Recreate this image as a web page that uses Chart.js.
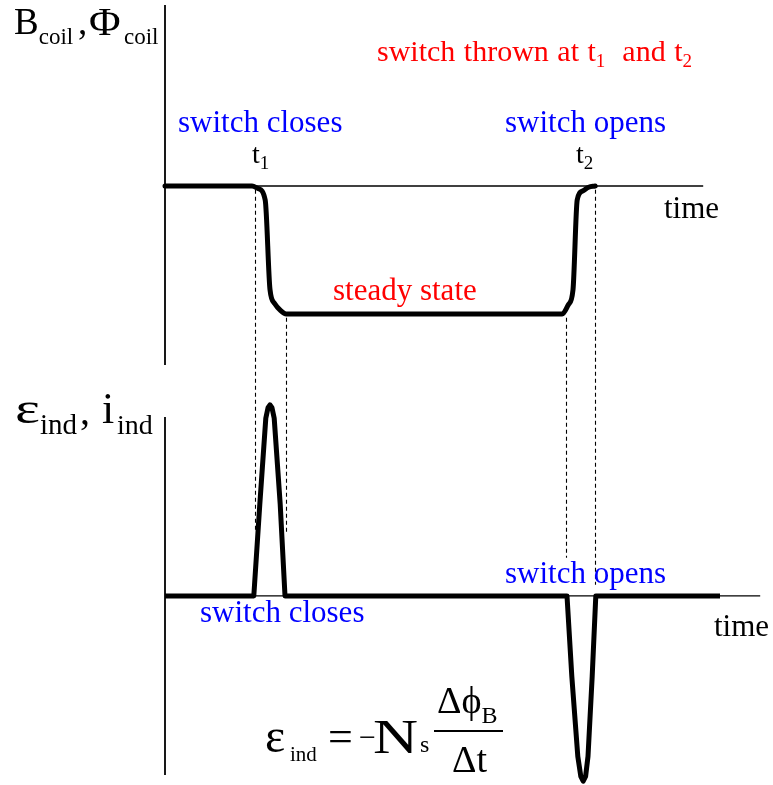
<!DOCTYPE html>
<html>
<head>
<meta charset="utf-8">
<script src="https://cdn.jsdelivr.net/npm/chart.js@4"></script>
<style>
  html, body { margin: 0; padding: 0; background: #fff; }
  #wrap { position: relative; width: 773px; height: 785px; overflow: hidden; font-family: "Liberation Serif", "Times New Roman", serif; }
  #c { position: absolute; left: 0; top: 0; }
  .lbl { position: absolute; white-space: nowrap; line-height: 1; }
  .sub { position: relative; }
</style>
</head>
<body>
<div id="wrap">
  <canvas id="c" width="773" height="785"></canvas>
</div>
<script>
// ---------------- data (time in arbitrary units, 0..100) ----------------
// top panel: coil field / flux
const TIME_TOP = [0, 14.5, 15.5, 16.7, 17.5, 18.3, 19.2, 20.2, 66.2, 67.2, 68.0, 68.7, 69.6, 70.6, 71.7];
const B_COIL   = [0, 0, -0.02, -0.11, -0.81, -0.92, -0.97, -1, -1, -0.93, -0.81, -0.11, -0.04, -0.01, 0];
// bottom panel: induced emf / current
const TIME_BOT = [0, 14.8, 15.8, 16.8, 17.17, 17.5, 17.83, 18.2, 19.2, 20.0, 67.0, 67.8, 68.8, 69.3, 69.7, 70.1, 70.5, 71.2, 71.8, 92.5];
const EMF_IND  = [0, 0, 0.48, 0.93, 0.985, 1, 0.985, 0.93, 0.48, 0, 0, -0.42, -0.84, -0.945, -0.97, -0.945, -0.84, -0.42, 0, 0];
// axes (time extent of each horizontal axis, value extent of each vertical axis)
const TOP_TIME_AXIS = [0, 89.7];
const TOP_VALUE_AXIS = [1.414, -1.398];
const BOT_TIME_AXIS = [0, 99.2];
const BOT_VALUE_AXIS = [0.937, -0.937];
// dashed guides at switching instants
const GUIDE_TIMES = [15.0, 20.2, 66.8, 71.7];
const GUIDE_TOP   = [-0.03, -1.03, -1.03, -0.03];   // top-panel value where guide starts
const GUIDE_BOT   = [0.346, 0.335, 0.2, 0.058];    // bottom-panel value where guide ends

const pts = (xs, ys) => xs.map((x, i) => ({ x, y: ys[i] }));

const guidePlugin = {
  id: 'guides',
  beforeDatasetsDraw(chart) {
    const { ctx, scales } = chart;
    ctx.save();
    ctx.strokeStyle = '#000';
    ctx.lineWidth = 1.1;
    ctx.setLineDash([4, 3]);
    GUIDE_TIMES.forEach((t, i) => {
      const x = Math.round(scales.x.getPixelForValue(t)) + 0.5;
      ctx.beginPath();
      ctx.moveTo(x, scales.yTop.getPixelForValue(GUIDE_TOP[i]));
      ctx.lineTo(x, scales.yBot.getPixelForValue(GUIDE_BOT[i]));
      ctx.stroke();
    });
    ctx.restore();
  }
};

const thin = { borderColor: '#000', borderWidth: 1.3, pointRadius: 0, tension: 0, clip: false };

new Chart(document.getElementById('c'), {
  type: 'scatter',
  data: {
    datasets: [
      { ...thin, showLine: true, yAxisID: 'yTop', data: pts(TOP_TIME_AXIS, [0, 0]) },
      { ...thin, borderWidth: 1.8, showLine: true, yAxisID: 'yTop', data: pts([0, 0], TOP_VALUE_AXIS) },
      { ...thin, showLine: true, yAxisID: 'yBot', data: pts(BOT_TIME_AXIS, [0, 0]) },
      { ...thin, borderWidth: 1.8, showLine: true, yAxisID: 'yBot', data: pts([0, 0], BOT_VALUE_AXIS) },
      { showLine: true, yAxisID: 'yTop', data: pts(TIME_TOP, B_COIL),
        borderColor: '#000', borderWidth: 5, pointRadius: 0, cubicInterpolationMode: 'monotone',
        borderCapStyle: 'round', borderJoinStyle: 'round', clip: false },
      { showLine: true, yAxisID: 'yBot', data: pts(TIME_BOT, EMF_IND),
        borderColor: '#000', borderWidth: 5, pointRadius: 0, tension: 0,
        borderCapStyle: 'butt', borderJoinStyle: 'round', clip: false }
    ]
  },
  options: {
    responsive: false,
    animation: false,
    devicePixelRatio: 1,
    layout: { padding: { left: 165, right: 8, top: 0, bottom: 0 } },
    plugins: { legend: { display: false }, tooltip: { enabled: false } },
    scales: {
      x: { type: 'linear', min: 0, max: 100, display: false },
      yTop: { type: 'linear', position: 'left', min: -4.68, max: 1.453, display: false },
      yBot: { type: 'linear', position: 'left', min: -0.99, max: 3.12, display: false }
    }
  },
  plugins: [guidePlugin]
});

// ---------------- text labels ----------------
const wrap = document.getElementById('wrap');
function label(x, baseline, size, color, html, extra) {
  const d = document.createElement('div');
  d.className = 'lbl';
  d.style.left = x + 'px';
  d.style.top = (baseline - 0.8375 * size) + 'px';
  d.style.fontSize = size + 'px';
  d.style.color = color;
  if (extra) Object.assign(d.style, extra);
  d.innerHTML = html;
  wrap.appendChild(d);
  return d;
}
const sub = (t, size, dy) => `<span class="sub" style="font-size:${size}px;top:${dy}px">${t}</span>`;
const wide = (t, k) => `<span style="display:inline-block;transform:scaleX(${k});transform-origin:left">${t}</span>`;

const BLUE = '#0000ff', RED = '#ff0000', BLACK = '#000';
// top-left axis title
label(14, 34, 37, BLACK, 'B' + sub('coil', 23, 10));
label(78, 34, 37, BLACK, ',');
label(89, 35, 40, BLACK, wide('Φ', 1.08));
label(124, 44, 23, BLACK, 'coil');
// annotations, top panel
label(377, 61, 30, RED, 'switch thrown at t' + sub('1', 19, 6) + '&nbsp; and t' + sub('2', 19, 6), { wordSpacing: '1px' });
label(178, 132, 31, BLUE, 'switch closes');
label(505, 132, 31, BLUE, 'switch opens');
label(252, 163, 28, BLACK, 't' + sub('1', 19, 6));
label(576, 163, 28, BLACK, 't' + sub('2', 19, 6));
label(664, 218, 31, BLACK, 'time');
label(333, 300, 31, RED, 'steady state');
// bottom-left axis title
label(15, 424, 44, BLACK, wide('ε', 1.35));
label(40, 434, 29, BLACK, 'ind');
label(80, 424, 40, BLACK, ',');
label(102, 424, 44, BLACK, 'i');
label(117, 434, 28, BLACK, 'ind');
// annotations, bottom panel
label(200, 622, 31, BLUE, 'switch closes');
label(505, 583, 31, BLUE, 'switch opens');
label(714, 636, 31, BLACK, 'time');
// formula
label(265, 752, 48, BLACK, 'ε');
label(290, 762, 21, BLACK, 'ind');
label(328, 752, 44, BLACK, '=');
label(359, 747, 30, BLACK, '−');
label(373, 753, 48, BLACK, wide('N', 1.3));
label(420, 752, 24, BLACK, 's');
label(437, 713, 38, BLACK, 'Δϕ' + sub('B', 24, 10));
label(452, 772, 38, BLACK, 'Δt');
const bar = document.createElement('div');
Object.assign(bar.style, { position: 'absolute', left: '434px', top: '730px', width: '69px', height: '2px', background: '#000' });
wrap.appendChild(bar);
</script>
</body>
</html>
